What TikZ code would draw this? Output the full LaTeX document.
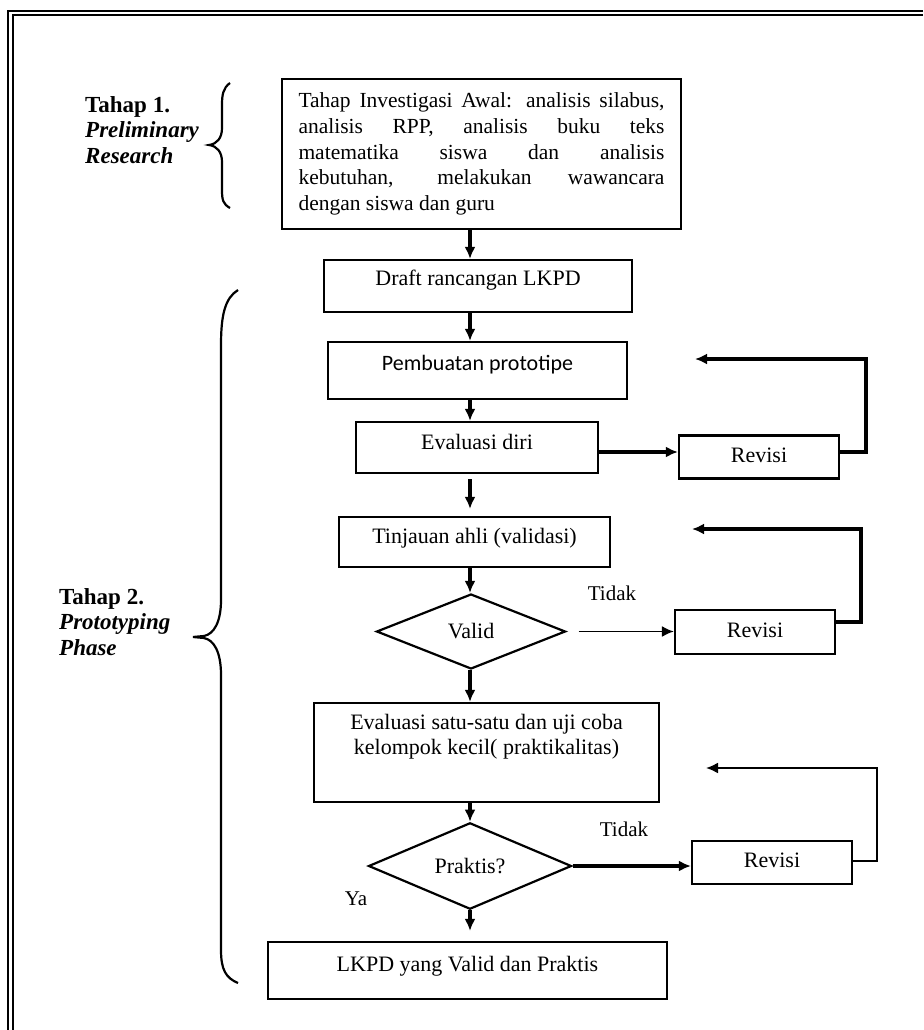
\documentclass[tikz,border=0pt]{standalone}
\usepackage{fontspec}
\setmainfont{Liberation Serif}
\newfontfamily\calib{Carlito}
\usetikzlibrary{arrows.meta,shapes.geometric}
\tikzset{
  box/.style={draw, line width=2.2pt, rectangle, inner sep=0pt, font=\fontsize{22}{26}\selectfont},
  dia/.style={draw, line width=2.2pt, diamond, inner sep=0pt, font=\fontsize{22}{26}\selectfont},
  lift/.style={text height=15pt, text depth=#1},
  arr/.style={line width=3.2pt, -{Latex[length=12pt,width=11pt]}},
  tarr/.style={line width=1.9pt, -{Latex[length=12pt,width=11pt]}},
  fb/.style={line width=3.2pt, -{Latex[length=12pt,width=11pt]}},
  tfb/.style={line width=2pt, -{Latex[length=12pt,width=11pt]}},
  lbl/.style={font=\fontsize{21}{25}\selectfont, inner sep=0pt},
  phase/.style={font=\fontsize{23}{25.5}\selectfont\bfseries, align=left, anchor=west, inner sep=0pt},
  brace/.style={line width=2.2pt},
  frame/.style={line width=2.2pt}
}
\begin{document}
\begin{tikzpicture}[x=1pt,y=-1pt]
\useasboundingbox (0,0) rectangle (923,1030);
% frame (top and left, double line)
\draw[frame] (923,11) -- (8.3,11) -- (8.3,1030);
\draw[frame] (923,15.3) -- (12.7,15.3) -- (12.7,1030);

% boxes
\node[box, minimum width=399pt, minimum height=150pt, font=\fontsize{21.5}{25.7}\selectfont] (b1) at (481.5,154)
  {\parbox{366pt}{\makebox[366pt][s]{Tahap Investigasi Awal: analisis silabus,}\\
   \makebox[366pt][s]{analisis RPP, analisis buku teks}\\
   \makebox[366pt][s]{matematika siswa dan analisis}\\
   \makebox[366pt][s]{kebutuhan, melakukan wawancara}\\
   dengan siswa dan guru}};
\node[box, lift=17pt, minimum width=308pt, minimum height=52pt] (draft) at (478,286) {Draft rancangan LKPD};
\node[box, lift=16pt, minimum width=299pt, minimum height=57pt, font=\calib\fontsize{22}{26}\selectfont] (proto) at (477.5,370.5) {Pembuatan prototipe};
\node[box, lift=12pt, minimum width=242pt, minimum height=51pt] (evald) at (477,447.5) {Evaluasi diri};
\node[box, lift=5pt, minimum width=160pt, minimum height=43pt] (rev1) at (759,457) {Revisi};
\node[box, lift=13pt, minimum width=271pt, minimum height=50pt] (tinj) at (474.5,542) {Tinjauan ahli (validasi)};
\node[dia, minimum width=189pt, minimum height=75pt] (valid) at (471,631.5) {Valid};
\node[box, lift=5pt, minimum width=160pt, minimum height=44pt] (rev2) at (755,632) {Revisi};
\node[box, minimum width=345pt, minimum height=99pt] (evs) at (486.5,752.5) {};
\node[lbl, font=\fontsize{22}{25}\selectfont, align=center] (evstext) at (486.5,737)
  {Evaluasi satu-satu dan uji coba\\kelompok kecil( praktikalitas)};
\node[dia, minimum width=203pt, minimum height=66pt] (prak) at (470,866) {Praktis?};
\node[box, lift=5pt, minimum width=160pt, minimum height=43pt] (rev3) at (772,862.5) {Revisi};
\node[box, lift=14pt, minimum width=399pt, minimum height=57pt] (lkpd) at (467.5,970.5) {LKPD yang Valid dan Praktis};

% main vertical arrows
\coordinate (ax) at (470,0);
\draw[arr] (b1.south -| ax) -- (draft.north -| ax);
\draw[arr] (draft.south -| ax) -- (proto.north -| ax);
\draw[arr] (proto.south -| ax) -- (evald.north -| ax);
\draw[arr, shorten <=5pt, shorten >=7pt] (evald.south -| ax) -- (tinj.north -| ax);
\draw[arr] (tinj.south -| ax) -- (valid.north -| ax);
\draw[arr] (valid.south -| ax) -- (evs.north -| ax);
\draw[arr] (evs.south -| ax) -- (prak.north -| ax);
\draw[arr, shorten >=10pt] (prak.south -| ax) -- (lkpd.north -| ax);

% horizontal arrows
\coordinate (h1) at (0,452);
\draw[arr] (evald.east |- h1) -- (rev1.west |- h1);
\draw[tarr, shorten <=12pt] (valid.east) -- (rev2.west |- valid.east);
\draw[arr] (prak.east) -- (rev3.west |- prak.east);

% feedback loops
\coordinate (f1a) at (866,452);
\coordinate (f1b) at (695,359);
\draw[fb] (rev1.east |- f1a) -- (f1a) |- (f1b);
\coordinate (f2a) at (861,622);
\coordinate (f2b) at (692,529);
\draw[fb] (rev2.east |- f2a) -- (f2a) |- (f2b);
\coordinate (f3a) at (877,861);
\coordinate (f3b) at (706,768);
\draw[tfb] (rev3.east |- f3a) -- (f3a) |- (f3b);

% labels
\node[lbl] (t1) at (612,593) {Tidak};
\node[lbl] (t2) at (624,829) {Tidak};
\node[lbl] (ya) at (356,899) {Ya};

% phase labels
\node[phase] (p1) at (85,130) {Tahap 1.\\\textit{Preliminary}\\\textit{Research}};
\node[phase] (p2) at (59,622) {Tahap 2.\\\textit{Prototyping}\\\textit{Phase}};

% braces
\draw[brace] (230,83) .. controls (223,88) and (222,95) .. (222,105) -- (222,128)
  .. controls (222,138) and (217,144) .. (209,145)
  .. controls (217,146) and (222,152) .. (222,162) -- (222,190)
  .. controls (222,200) and (223,204) .. (230,208);
\draw[brace] (238,290) .. controls (225,298) and (221,315) .. (221,345) -- (221,600)
  .. controls (221,622) and (214,634) .. (204,636) -- (193,637)
  -- (204,638) .. controls (214,640) and (221,652) .. (221,675) -- (221,950)
  .. controls (221,970) and (226,978) .. (238,983);
\end{tikzpicture}
\end{document}
